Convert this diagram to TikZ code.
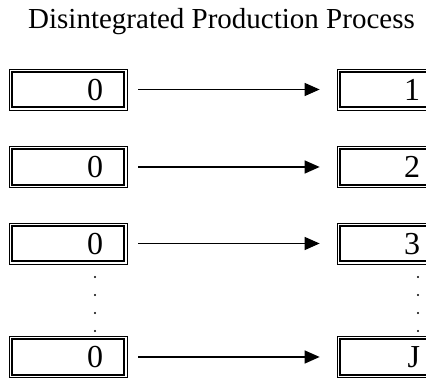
\documentclass[tikz,border=0pt]{standalone}
\usepackage{fontspec}
\setmainfont{Liberation Serif}
\usetikzlibrary{arrows.meta}
\tikzset{
  dbox/.style={draw, line width=0.7pt, minimum width=118pt, minimum height=41pt, inner sep=0pt},
  inner/.style={line width=2.2pt},
  digit/.style={anchor=base east, inner sep=0pt, font=\fontsize{32}{36}\selectfont},
  conn/.style={line width=1.2pt, -{Triangle[length=15pt,width=13pt]}, shorten <=11pt, shorten >=17pt},
  dot/.style={fill=black}
}
\begin{document}
\begin{tikzpicture}[x=1pt,y=1pt]
\useasboundingbox (0,0) rectangle (426,380);
\clip (0,0) rectangle (426,380);
\node[anchor=base, inner sep=0pt, font=\fontsize{29}{34}\selectfont] (title) at (221.5,351) {Disintegrated Production Process};
\foreach \n/\y/\lab in {1/290.5/1, 2/213/2, 3/136.5/3, 4/23/J}{
  \node[dbox] (a\n) at (68,\y) {};
  \draw[inner] ([shift={(3.2,3.2)}]a\n.south west) rectangle ([shift={(-3.2,-3.2)}]a\n.north east);
  \node[digit] (ta\n) at ([xshift=-24pt,yshift=-11pt]a\n.east) {0};
  \node[dbox] (b\n) at (396,\y) {};
  \draw[inner] ([shift={(3.2,3.2)}]b\n.south west) rectangle ([shift={(-3.2,-3.2)}]b\n.north east);
  \node[digit] (tb\n) at ([xshift=-35pt,yshift=-11pt]b\n.east) {\lab};
  \draw[conn] (a\n) -- (b\n);
}
\foreach \yy in {103,85,67,49}{
  \fill[dot] (95,\yy) circle (1.1pt);
  \fill[dot] (418,\yy) circle (1.1pt);
}
\end{tikzpicture}
\end{document}
